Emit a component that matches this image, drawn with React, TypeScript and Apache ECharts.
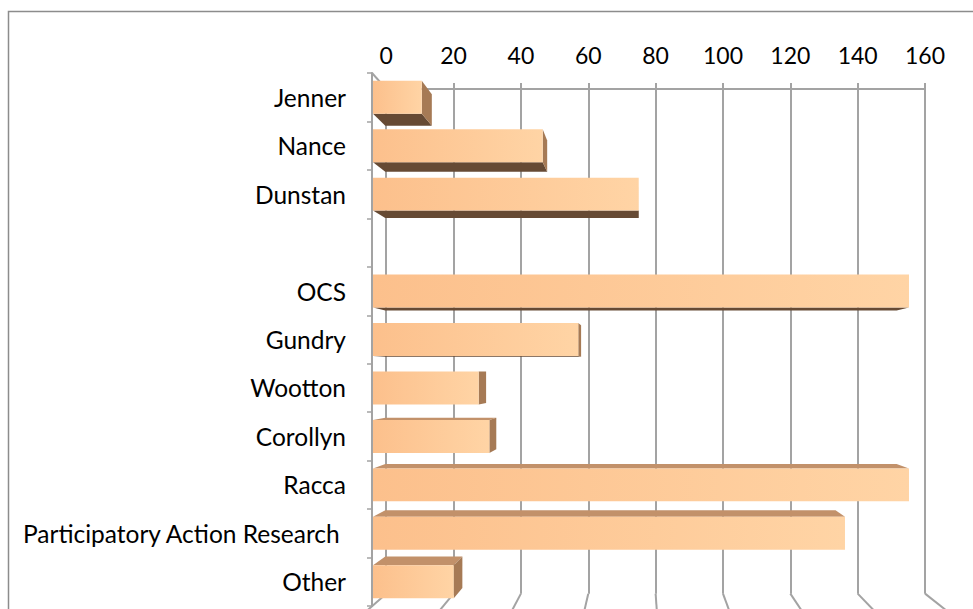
import React, { useEffect, useRef } from "react";
import * as echarts from "echarts";

const categories = [
  "Jenner",
  "Nance",
  "Dunstan",
  "",
  "OCS",
  "Gundry",
  "Wootton",
  "Corollyn",
  "Racca",
  "Participatory Action Research ",
  "Other",
];
const values: (number | null)[] = [14, 48, 75, null, 151, 58, 30, 33, 151, 133, 23];
const axisTicks = [0, 20, 40, 60, 80, 100, 120, 140, 160];

const W = 973;
const H = 609;
const VP = [640, 373];
const WALL_DEPTH = 0.053;
const BAR_DEPTH = 0.046;
const FRONT = { left: 372, top: 73, right: 941, bottom: 606 };
const FONT = "Lato";
const GRID_COLOR = "#A3A3A3";

const proj = (x: number, y: number, k: number) => [
  VP[0] + (x - VP[0]) * (1 - k),
  VP[1] + (y - VP[1]) * (1 - k),
];

export default function App() {
  const ref = useRef<HTMLDivElement>(null);
  useEffect(() => {
    if (!ref.current) return;
    const chart = echarts.init(ref.current, null, { renderer: "svg" });
    const backTL = proj(FRONT.left, FRONT.top, WALL_DEPTH);
    const backBR = proj(FRONT.right, FRONT.bottom, WALL_DEPTH);

    const barData = values
      .map((v, i) => [v, i])
      .filter((d) => d[0] != null);

    const option: any = {
      animation: false,
      graphic: [
        {
          type: "rect",
          silent: true,
          z: -10,
          shape: { x: 8.5, y: 11.5, width: 1000, height: 700 },
          style: { fill: "none", stroke: "#8C8C8C", lineWidth: 1.5 },
        },
      ],
      grid: [
        {
          left: FRONT.left,
          top: FRONT.top,
          width: FRONT.right - FRONT.left,
          height: FRONT.bottom - FRONT.top,
        },
        {
          left: backTL[0],
          top: backTL[1],
          width: backBR[0] - backTL[0],
          height: backBR[1] - backTL[1],
        },
      ],
      xAxis: [
        { gridIndex: 0, type: "value", min: 0, max: 160, interval: 20, show: false },
        {
          gridIndex: 1,
          type: "value",
          min: 0,
          max: 160,
          interval: 20,
          position: "top",
          axisLine: { show: true, lineStyle: { color: GRID_COLOR, width: 2 } },
          axisTick: { show: true, length: 6, lineStyle: { color: GRID_COLOR, width: 2 } },
          axisLabel: { fontFamily: FONT, fontSize: 23, color: "#000", margin: 22 },
          splitLine: {
            show: true,
            showMinLine: true,
            showMaxLine: true,
            lineStyle: { color: GRID_COLOR, width: 2 },
          },
        },
      ],
      yAxis: [
        {
          gridIndex: 0,
          type: "category",
          data: categories,
          inverse: true,
          axisLine: { show: true, lineStyle: { color: GRID_COLOR, width: 2 } },
          axisTick: { show: true, length: 5, lineStyle: { color: GRID_COLOR, width: 1.5 } },
          axisLabel: { fontFamily: FONT, fontSize: 24.5, color: "#000", margin: 26 },
          splitLine: { show: false },
        },
        { gridIndex: 1, type: "category", data: categories, inverse: true, show: false },
      ],
      series: [
        {
          type: "custom",
          name: "walls",
          xAxisIndex: 0,
          yAxisIndex: 0,
          silent: true,
          data: axisTicks.map((v) => [v, categories.length - 1]),
          renderItem: (params: any, api: any) => {
            const v = api.value(0);
            const i = api.value(1);
            const band = api.size([0, 1])[1];
            const p = api.coord([v, i]);
            const fy = p[1] + band / 2 + 5;
            const b = proj(p[0], fy - 5, WALL_DEPTH);
            const fx = VP[0] + (p[0] - VP[0]) * (1 + 0.02);
            const children: any[] = [
              {
                type: "line",
                shape: { x1: b[0], y1: b[1], x2: fx, y2: fy },
                style: { stroke: GRID_COLOR, lineWidth: 2 },
              },
            ];
            if (v === 0) {
              const t = api.coord([0, 0]);
              const ty = t[1] - band / 2;
              const bt = proj(t[0], ty, WALL_DEPTH);
              children.push({
                type: "line",
                shape: { x1: t[0], y1: ty, x2: bt[0], y2: bt[1] },
                style: { stroke: GRID_COLOR, lineWidth: 2 },
              });
            }
            return { type: "group", children };
          },
        },
        {
          type: "custom",
          name: "bars",
          xAxisIndex: 0,
          yAxisIndex: 0,
          data: barData,
          z: 5,
          renderItem: (params: any, api: any) => {
            const v = api.value(0);
            const i = api.value(1);
            const p0 = api.coord([0, i]);
            const p1 = api.coord([v, i]);
            const band = api.size([0, 1])[1];
            const h = band * 0.68;
            const yt = p0[1] - h / 2;
            const yb = p0[1] + h / 2;
            const x0 = p0[0] + 1;
            const x1 = p1[0];
            const pr = (x: number, y: number) => proj(x, y, BAR_DEPTH);
            const children: any[] = [];
            if (yt > VP[1]) {
              children.push({
                type: "polygon",
                shape: { points: [[x0, yt], [x1, yt], pr(x1, yt), pr(x0, yt)] },
                style: { fill: "#C2916A" },
              });
            }
            if (yb < VP[1]) {
              children.push({
                type: "polygon",
                shape: { points: [[x0, yb], [x1, yb], pr(x1, yb), pr(x0, yb)] },
                style: { fill: "#664A34" },
              });
            }
            if (x1 < VP[0]) {
              children.push({
                type: "polygon",
                shape: { points: [[x1, yt], [x1, yb], pr(x1, yb), pr(x1, yt)] },
                style: { fill: "#A67A55" },
              });
            }
            children.push({
              type: "rect",
              shape: { x: x0, y: yt, width: x1 - x0, height: h },
              style: {
                fill: new echarts.graphic.LinearGradient(0, 0, 1, 0, [
                  { offset: 0, color: "#FCC08C" },
                  { offset: 1, color: "#FFD4A5" },
                ]),
              },
            });
            return { type: "group", children };
          },
        },
      ],
    };
    chart.setOption(option);
    return () => chart.dispose();
  }, []);
  return (
    <div
      ref={ref}
      style={{ position: "absolute", left: 0, top: 0, width: W, height: H, background: "#fff" }}
    />
  );
}
